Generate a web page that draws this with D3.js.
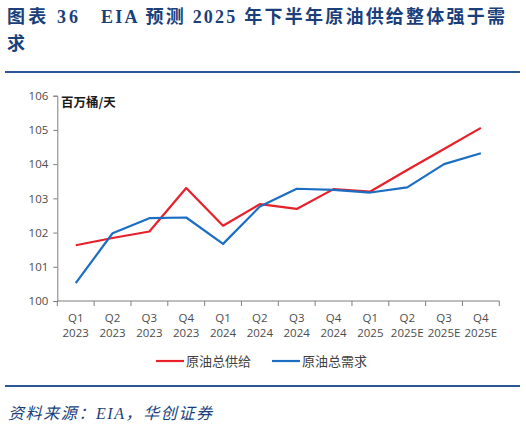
<!DOCTYPE html>
<html>
<head>
<meta charset="utf-8">
<script src="https://cdn.jsdelivr.net/npm/d3@7/dist/d3.min.js"></script>
<style>
  body { margin: 0; background: #fff; }
  svg { display: block; }
</style>
</head>
<body>
<svg id="chart" width="526" height="427"></svg>
<script>
// quarter labels (two lines each)
const quarters = ['Q1', 'Q2', 'Q3', 'Q4', 'Q1', 'Q2', 'Q3', 'Q4', 'Q1', 'Q2', 'Q3', 'Q4'];
const years = ['2023', '2023', '2023', '2023', '2024', '2024', '2024', '2024', '2025', '2025E', '2025E', '2025E'];

// million barrels per day
const supply = [101.63, 101.84, 102.03, 103.30, 102.20, 102.83, 102.69, 103.27, 103.20, 103.83, 104.44, 105.06];
const demand = [100.52, 101.98, 102.42, 102.44, 101.67, 102.76, 103.28, 103.25, 103.17, 103.32, 104.00, 104.32];

const seriesNames = ['原油总供给', '原油总需求'];
const seriesColors = ['#e8202a', '#1b6ec2'];
const yTicks = [100, 101, 102, 103, 104, 105, 106];

const svg = d3.select('#chart');
const titleColor = '#1a3f7a';
const cjk = '"Noto Sans CJK SC", sans-serif';
const serifMix = '"Liberation Serif", "Noto Sans CJK SC", serif';

// Title (stretched to the reference widths)
const titleStyle = sel => sel
  .style('font-family', serifMix)
  .style('font-size', '18px')
  .style('font-weight', 'bold')
  .style('fill', titleColor);
svg.append('text')
  .attr('x', 7).attr('y', 23)
  .attr('textLength', 71).attr('lengthAdjust', 'spacing')
  .call(titleStyle)
  .text('图表 36');
svg.append('text')
  .attr('x', 101).attr('y', 23)
  .attr('textLength', 404).attr('lengthAdjust', 'spacing')
  .call(titleStyle)
  .text('EIA 预测 2025 年下半年原油供给整体强于需');
svg.append('text')
  .attr('x', 7).attr('y', 50)
  .call(titleStyle)
  .text('求');

// separators
svg.append('line')
  .attr('x1', 5).attr('x2', 520).attr('y1', 72).attr('y2', 72)
  .attr('stroke', '#2b5797').attr('stroke-width', 2);
svg.append('line')
  .attr('x1', 5).attr('x2', 520).attr('y1', 386).attr('y2', 386)
  .attr('stroke', '#2b5797').attr('stroke-width', 2);

// source
svg.append('text')
  .attr('x', 8)
  .attr('y', 419)
  .attr('textLength', 204).attr('lengthAdjust', 'spacing')
  .style('font-family', '"Liberation Serif", "Noto Sans CJK SC", serif')
  .style('font-style', 'italic')
  .style('font-size', '16px')
  .style('fill', titleColor)
  .text('资料来源：EIA，华创证券');

// chart area
const plotLeft = 57.3, plotRight = 499.3, plotTop = 95.7, plotBottom = 301;

const x = d3.scaleBand()
  .domain(d3.range(quarters.length))
  .range([plotLeft, plotRight]);

const y = d3.scaleLinear()
  .domain([100, 106])
  .range([plotBottom, plotTop]);

const axisColor = '#7f7f7f';
const labelColor = '#4d4d4d';

// y axis
const yAxis = svg.append('g')
  .attr('transform', `translate(${plotLeft},0)`)
  .call(d3.axisLeft(y).tickValues(yTicks).tickSize(4).tickPadding(5).tickFormat(d3.format('d')));
yAxis.selectAll('.domain, .tick line').attr('stroke', axisColor);
yAxis.selectAll('text')
  .style('font-family', '"Open Sans", "DejaVu Sans", sans-serif')
  .style('font-size', '11.5px')
  .attr('fill', labelColor);

// x axis with ticks at band edges
const xAxisG = svg.append('g').attr('transform', `translate(0,${plotBottom})`);
xAxisG.append('line')
  .attr('x1', plotLeft).attr('x2', plotRight)
  .attr('stroke', axisColor);
xAxisG.selectAll('.xtick')
  .data(d3.range(quarters.length + 1))
  .enter()
  .append('line')
  .attr('x1', i => plotLeft + i * x.step())
  .attr('x2', i => plotLeft + i * x.step())
  .attr('y1', 0)
  .attr('y2', 5)
  .attr('stroke', axisColor);

const xLabels = xAxisG.selectAll('.xlabel')
  .data(d3.range(quarters.length))
  .enter()
  .append('text')
  .attr('text-anchor', 'middle')
  .style('font-family', '"Open Sans", "DejaVu Sans", sans-serif')
  .style('font-size', '11.5px')
  .attr('fill', labelColor);
xLabels.append('tspan')
  .attr('x', i => x(i) + x.bandwidth() / 2)
  .attr('y', 21)
  .text(i => quarters[i]);
xLabels.append('tspan')
  .attr('x', i => x(i) + x.bandwidth() / 2)
  .attr('y', 36)
  .text(i => years[i]);

// unit label
svg.append('text')
  .attr('x', 61)
  .attr('y', 107)
  .style('font-family', cjk)
  .style('font-size', '12.5px')
  .style('font-weight', 'bold')
  .attr('fill', '#1a1a1a')
  .text('百万桶/天');

// lines
const line = d3.line()
  .x((d, i) => x(i) + x.bandwidth() / 2)
  .y(d => y(d));

[supply, demand].forEach((vals, k) => {
  svg.append('path')
    .datum(vals)
    .attr('fill', 'none')
    .attr('stroke', seriesColors[k])
    .attr('stroke-width', 2.2)
    .attr('stroke-linejoin', 'round')
    .attr('d', line);
});

// legend
const legendX = [156, 272];
const legend = svg.append('g').attr('transform', 'translate(0,361)');
seriesNames.forEach((name, k) => {
  legend.append('line')
    .attr('x1', legendX[k]).attr('x2', legendX[k] + 28)
    .attr('y1', 0).attr('y2', 0)
    .attr('stroke', seriesColors[k])
    .attr('stroke-width', 2.2);
  legend.append('text')
    .attr('x', legendX[k] + 30)
    .attr('y', 5)
    .style('font-family', cjk)
    .style('font-size', '13px')
    .attr('fill', '#404040')
    .text(name);
});
</script>
</body>
</html>
